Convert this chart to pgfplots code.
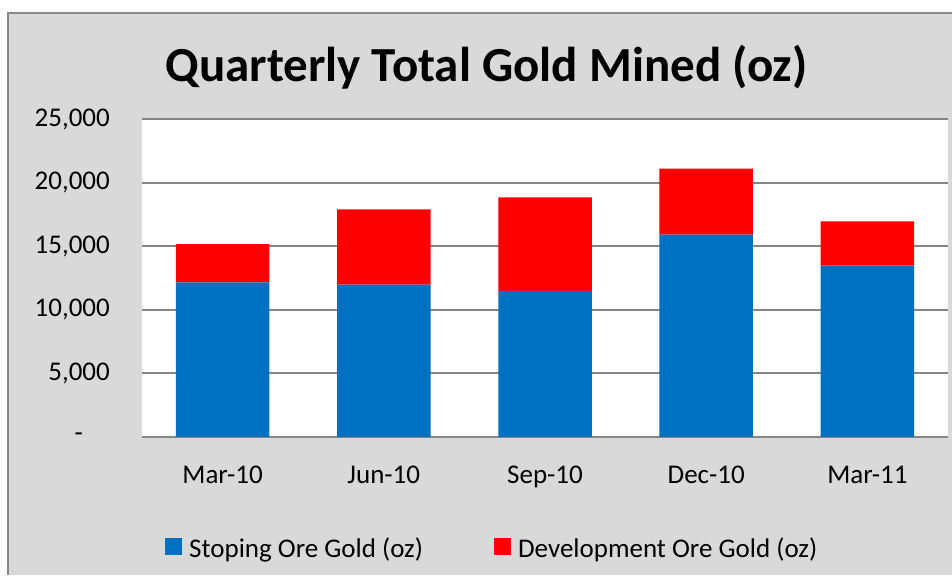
\documentclass[border=0pt]{standalone}
\usepackage{pgfplots}
\pgfplotsset{compat=1.18}
\usepackage{fontspec}
\setmainfont{Carlito}
\definecolor{bgray}{HTML}{D9D9D9}
\definecolor{framec}{HTML}{878787}
\definecolor{gridc}{HTML}{858585}
\definecolor{sblue}{HTML}{0070C0}
\definecolor{dred}{HTML}{FF0000}
\begin{document}
\begin{tikzpicture}[x=1pt,y=1pt]
\useasboundingbox (0,0) rectangle (952,575);
\fill[white] (0,0) rectangle (952,575);
\fill[bgray] (8,0) rectangle (952,562);
\draw[framec, line width=2pt] (8,0) -- (8,562) -- (952,562);
\node[font=\fontsize{49}{58}\selectfont\bfseries, anchor=base, inner sep=0pt] at (486.5,493) {Quarterly Total Gold Mined (oz)};
\begin{axis}[
  at={(142pt,138pt)}, anchor=south west, scale only axis,
  width=806pt, height=318pt,
  xmin=-0.5, xmax=4.5, ymin=0, ymax=25000,
  ybar stacked, bar width=0.58,
  xtick={0,1,2,3,4},
  xticklabels={Mar-10,Jun-10,Sep-10,Dec-10,Mar-11},
  ytick={0,5000,10000,15000,20000,25000},
  yticklabels={{-\hspace*{27pt}},{5,000},{10,000},{15,000},{20,000},{25,000}},
  scaled y ticks=false,
  axis line style={draw=none},
  major tick length=0pt, tick style={draw=none},
  ymajorgrids, grid style={gridc, line width=2pt},
  axis background/.style={fill=white},
  tick label style={font=\fontsize{27}{32}\selectfont, inner sep=0pt},
  xticklabel shift=29pt,
  yticklabel shift=32pt,
  legend columns=2,
  legend image code/.code={\fill[#1] (0pt,-7pt) rectangle (16.5pt,9.5pt);},
  legend style={at={(0.0285,-0.349)}, anchor=west, draw=none, fill=none,
    font=\fontsize{27}{32}\selectfont, inner sep=0pt, nodes={inner sep=0pt},
    /tikz/every odd column/.append style={column sep=7.5pt},
    /tikz/every even column/.append style={column sep=71pt}},
]
\addplot[fill=sblue, draw=none] coordinates {(0,12150) (1,11970) (2,11480) (3,15900) (4,13470)};
\addplot[fill=dred, draw=none] coordinates {(0,3020) (1,5930) (2,7360) (3,5190) (4,3480)};
\legend{Stoping Ore Gold (oz), Development Ore Gold (oz)}
\end{axis}
\end{tikzpicture}
\end{document}
